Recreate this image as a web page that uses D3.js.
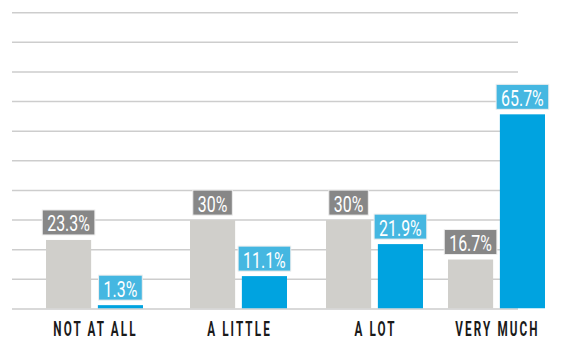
<!DOCTYPE html>
<html><head><meta charset="utf-8">
<script src="https://cdn.jsdelivr.net/npm/d3@7"></script>
<style>body{margin:0;background:#fff}svg{display:block}</style>
</head><body>
<svg id="c" width="571" height="340"></svg>
<script>
const categories = ["NOT AT ALL", "A LITTLE", "A LOT", "VERY MUCH"];
const seriesGray = [23.3, 30, 30, 16.7];
const seriesBlue = [1.3, 11.1, 21.9, 65.7];
const labelsGray = ["23.3%", "30%", "30%", "16.7%"];
const labelsBlue = ["1.3%", "11.1%", "21.9%", "65.7%"];
const yTicks = [0, 10, 20, 30, 40, 50, 60, 70, 80, 90, 100];

const svg = d3.select("#c");
const y = d3.scaleLinear().domain([0, 100]).range([309, 12.7]);
const groupX = d3.scaleOrdinal().domain(categories).range([46, 190, 326, 448]);
const inner = d3.scaleBand().domain(["gray", "blue"]).range([0, 97]).paddingInner(0.13);

// gridlines
svg.append("g").selectAll("line").data(yTicks).join("line")
  .attr("x1", 12).attr("x2", 518)
  .attr("y1", d => y(d)).attr("y2", d => y(d))
  .attr("stroke", "#cdcdcd").attr("stroke-width", 1.5);

const font = "Roboto, sans-serif";
const sx = 0.74;
const series = [
  {key: "gray", values: seriesGray, labels: labelsGray, bar: "#d0cfcb", box: "#878787"},
  {key: "blue", values: seriesBlue, labels: labelsBlue, bar: "#00a3e0", box: "#45b7e1"}
];

series.forEach(s => {
  categories.forEach((c, i) => {
    const x0 = groupX(c) + inner(s.key);
    const w = inner.bandwidth();
    const v = s.values[i];
    const cx = x0 + w / 2;
    svg.append("rect").attr("x", x0).attr("width", w)
      .attr("y", y(v)).attr("height", y(0) - y(v) - 0.75).attr("fill", s.bar);
    const g = svg.append("g");
    const boxBottom = y(v) - 5;
    const rect = g.append("rect");
    const t = g.append("text").text(s.labels[i])
      .attr("transform", `translate(${cx},${boxBottom - 3.6}) scale(${sx},1)`)
      .attr("text-anchor", "middle").attr("fill", "#fff")
      .attr("font-family", font).attr("font-size", 21.5);
    const tw = t.node().getComputedTextLength() * sx;
    rect.attr("x", cx - tw / 2 - 5).attr("width", tw + 10)
      .attr("y", boxBottom - 25).attr("height", 25)
      .attr("fill", s.box).attr("stroke", "#eeeeee").attr("stroke-width", 1);
  });
});

svg.append("g").selectAll("text").data(categories).join("text")
  .attr("transform", d => `translate(${groupX(d) + 48.5 + 1},335.8) scale(0.6,1)`)
  .attr("text-anchor", "middle").attr("fill", "#1a1a1a")
  .attr("font-family", font).attr("font-weight", "bold").attr("font-size", 19.5)
  .attr("letter-spacing", 3.5)
  .text(d => d);
</script>
</body></html>
